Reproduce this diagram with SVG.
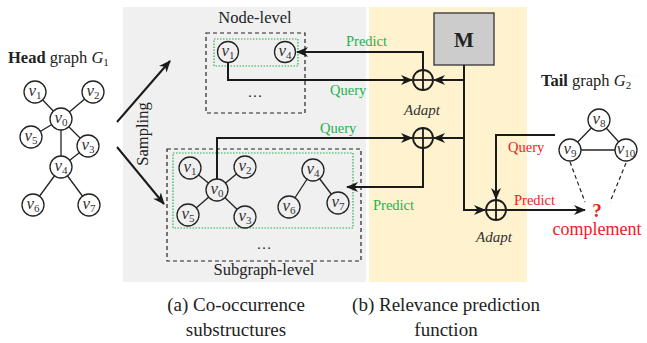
<svg xmlns="http://www.w3.org/2000/svg" width="647" height="343" viewBox="0 0 647 343">
<style>
.bg{stroke:none}
.nd{stroke:#222;stroke-width:1.3}
.e{stroke:#222;stroke-width:1.3;fill:none}
.ln{stroke:#1a1a1a;stroke-width:2;fill:none}
.dash{stroke:#222;stroke-width:1.2;fill:none;stroke-dasharray:4 3}
.dot{stroke:#22b14c;stroke-width:1.2;fill:none;stroke-dasharray:1.5 1.5}
.vl{font-family:"Liberation Serif",serif;font-style:italic;font-size:17px;fill:#333;text-anchor:middle}
.sb{font-size:11px;font-style:normal}
.t{font-family:"Liberation Serif",serif;fill:#222}
.g{font-family:"Liberation Serif",serif;font-size:14.5px;fill:#1fb04f}
.r{font-family:"Liberation Serif",serif;font-size:14.5px;fill:#ee1c25}
.ad{font-family:"Liberation Serif",serif;font-size:15px;font-style:italic;fill:#333;text-anchor:middle}
.op{fill:none;stroke:#1a1a1a;stroke-width:1.8}
</style>
<defs>
<marker id="ah" viewBox="0 0 12 10" refX="11" refY="5" markerWidth="12" markerHeight="10" markerUnits="userSpaceOnUse" orient="auto">
<path d="M0,0 L12,5 L0,10 L3.5,5 z" fill="#1a1a1a"/>
</marker>
</defs>

<!-- backgrounds -->
<rect class="bg" x="123" y="7" width="243" height="275" fill="#f0f0f0"/>
<rect class="bg" x="369" y="7" width="158" height="275" fill="#fff2cf"/>

<!-- Head graph -->
<g id="head-graph">
<text class="t" x="8" y="63" font-size="16.5"><tspan font-weight="bold">Head</tspan> graph <tspan font-style="italic">G</tspan><tspan font-size="11" dy="3">1</tspan></text>
<line class="e" x1="61" y1="119" x2="35" y2="92"/>
<line class="e" x1="61" y1="119" x2="93" y2="92"/>
<line class="e" x1="61" y1="119" x2="31" y2="137"/>
<line class="e" x1="61" y1="119" x2="88" y2="146"/>
<line class="e" x1="61" y1="119" x2="61" y2="167"/>
<line class="e" x1="88" y1="146" x2="61" y2="167"/>
<line class="e" x1="61" y1="167" x2="33" y2="205"/>
<line class="e" x1="61" y1="167" x2="89" y2="205"/>
<circle class="nd" cx="35" cy="92" r="11" fill="#fff"/>
<circle class="nd" cx="93" cy="92" r="11" fill="#fff"/>
<circle class="nd" cx="61" cy="119" r="11" fill="#fff"/>
<circle class="nd" cx="31" cy="137" r="11" fill="#fff"/>
<circle class="nd" cx="88" cy="146" r="11" fill="#fff"/>
<circle class="nd" cx="61" cy="167" r="11" fill="#fff"/>
<circle class="nd" cx="33" cy="205" r="11" fill="#fff"/>
<circle class="nd" cx="89" cy="205" r="11" fill="#fff"/>
<text class="vl" x="35" y="96">v<tspan class="sb" dy="3">1</tspan></text>
<text class="vl" x="93" y="96">v<tspan class="sb" dy="3">2</tspan></text>
<text class="vl" x="61" y="123">v<tspan class="sb" dy="3">0</tspan></text>
<text class="vl" x="31" y="141">v<tspan class="sb" dy="3">5</tspan></text>
<text class="vl" x="88" y="150">v<tspan class="sb" dy="3">3</tspan></text>
<text class="vl" x="61" y="171">v<tspan class="sb" dy="3">4</tspan></text>
<text class="vl" x="33" y="209">v<tspan class="sb" dy="3">6</tspan></text>
<text class="vl" x="89" y="209">v<tspan class="sb" dy="3">7</tspan></text>
</g>

<!-- Sampling -->
<g id="sampling">
<text class="t" font-size="16.5" text-anchor="middle" transform="translate(148,134) rotate(-90)">Sampling</text>
</g>

<!-- Node-level -->
<g id="node-level">
<text class="t" x="255" y="23" font-size="16.5" text-anchor="middle" fill="#333">Node-level</text>
<rect class="dash" x="206" y="33" width="99" height="80"/>
<rect class="dot" x="214" y="39" width="84" height="27"/>
<circle class="nd" cx="228" cy="52" r="10.5" fill="none"/>
<circle class="nd" cx="285" cy="52" r="10.5" fill="none"/>
<text class="vl" x="228" y="56">v<tspan class="sb" dy="3">1</tspan></text>
<text class="vl" x="285" y="56">v<tspan class="sb" dy="3">4</tspan></text>
<text class="t" x="255" y="97" font-size="15" text-anchor="middle">…</text>
</g>

<!-- Subgraph-level -->
<g id="subgraph-level">
<rect class="dash" x="167" y="149" width="194" height="112"/>
<rect class="dot" x="173" y="153" width="180" height="75"/>
<line class="e" x1="217" y1="190" x2="190" y2="168"/>
<line class="e" x1="217" y1="190" x2="245" y2="167"/>
<line class="e" x1="217" y1="190" x2="188" y2="215"/>
<line class="e" x1="217" y1="190" x2="245" y2="217"/>
<line class="e" x1="313" y1="170" x2="289" y2="207"/>
<line class="e" x1="313" y1="170" x2="338" y2="203"/>
<circle class="nd" cx="190" cy="168" r="11" fill="#f0f0f0"/>
<circle class="nd" cx="245" cy="167" r="11" fill="#f0f0f0"/>
<circle class="nd" cx="217" cy="190" r="11" fill="#f0f0f0"/>
<circle class="nd" cx="188" cy="215" r="11" fill="#f0f0f0"/>
<circle class="nd" cx="245" cy="217" r="11" fill="#f0f0f0"/>
<circle class="nd" cx="313" cy="170" r="11" fill="#f0f0f0"/>
<circle class="nd" cx="289" cy="207" r="11" fill="#f0f0f0"/>
<circle class="nd" cx="338" cy="203" r="11" fill="#f0f0f0"/>
<text class="vl" x="190" y="172">v<tspan class="sb" dy="3">1</tspan></text>
<text class="vl" x="245" y="171">v<tspan class="sb" dy="3">2</tspan></text>
<text class="vl" x="217" y="194">v<tspan class="sb" dy="3">0</tspan></text>
<text class="vl" x="188" y="219">v<tspan class="sb" dy="3">5</tspan></text>
<text class="vl" x="245" y="221">v<tspan class="sb" dy="3">3</tspan></text>
<text class="vl" x="313" y="174">v<tspan class="sb" dy="3">4</tspan></text>
<text class="vl" x="289" y="211">v<tspan class="sb" dy="3">6</tspan></text>
<text class="vl" x="338" y="207">v<tspan class="sb" dy="3">7</tspan></text>
<text class="t" x="264" y="249" font-size="15" text-anchor="middle">…</text>
<text class="t" x="264" y="275" font-size="16.5" text-anchor="middle" fill="#333">Subgraph-level</text>
</g>

<!-- Model M -->
<g id="model-M">
<rect x="434" y="13" width="60" height="52" fill="#cccccc" stroke="#333" stroke-width="1.3"/>
<text class="t" x="464" y="47" font-size="21" font-weight="bold" text-anchor="middle">M</text>
</g>

<!-- Adapt operators -->
<g id="adapt-1">
<circle class="op" cx="423" cy="80" r="10"/>
<line class="op" x1="413" y1="80" x2="433" y2="80"/>
<line class="op" x1="423" y1="70" x2="423" y2="90"/>
<text class="ad" x="422" y="115">Adapt</text>
</g>
<g id="adapt-2">
<circle class="op" cx="423" cy="138" r="10"/>
<line class="op" x1="413" y1="138" x2="433" y2="138"/>
<line class="op" x1="423" y1="128" x2="423" y2="148"/>
</g>
<g id="adapt-3">
<circle class="op" cx="496" cy="210" r="10"/>
<line class="op" x1="486" y1="210" x2="506" y2="210"/>
<line class="op" x1="496" y1="200" x2="496" y2="220"/>
<text class="ad" x="494" y="242">Adapt</text>
</g>

<!-- Tail graph -->
<g id="tail-graph">
<text class="t" x="541" y="86" font-size="16.5"><tspan font-weight="bold">Tail</tspan> graph <tspan font-style="italic">G</tspan><tspan font-size="11" dy="3">2</tspan></text>
<line class="e" x1="599" y1="120" x2="570" y2="150"/>
<line class="e" x1="599" y1="120" x2="626" y2="150"/>
<line class="e" x1="570" y1="150" x2="626" y2="150"/>
<circle class="nd" cx="599" cy="120" r="11" fill="#fff"/>
<circle class="nd" cx="570" cy="150" r="11" fill="#fff"/>
<circle class="nd" cx="626" cy="150" r="11" fill="#fff"/>
<text class="vl" x="599" y="124">v<tspan class="sb" dy="3">8</tspan></text>
<text class="vl" x="570" y="154">v<tspan class="sb" dy="3">9</tspan></text>
<text class="vl" x="626" y="154">v<tspan class="sb" dy="3">10</tspan></text>
</g>

<!-- Complement -->
<g id="complement">
<text x="597" y="217" font-family="Liberation Serif,serif" font-size="19" font-weight="bold" fill="#ee1c25" text-anchor="middle">?</text>
<text x="597" y="235" font-family="Liberation Serif,serif" font-size="18" fill="#ee1c25" text-anchor="middle">complement</text>
</g>

<!-- Connectors -->
<g id="connectors">
<line class="ln" x1="117" y1="122" x2="170" y2="61" marker-end="url(#ah)"/>
<line class="ln" x1="117" y1="147" x2="164" y2="204" marker-end="url(#ah)"/>
<!-- node-level -->
<polyline class="ln" points="423,70 423,52 297,52" marker-end="url(#ah)"/>
<polyline class="ln" points="228,62.5 228,80 412,80" marker-end="url(#ah)"/>
<!-- M trunk -->
<polyline class="ln" points="464,65 464,210 485,210" marker-end="url(#ah)"/>
<line class="ln" x1="464" y1="80" x2="434" y2="80" marker-end="url(#ah)"/>
<line class="ln" x1="464" y1="138" x2="434" y2="138" marker-end="url(#ah)"/>
<!-- subgraph-level -->
<polyline class="ln" points="217,179 217,138 412,138" marker-end="url(#ah)"/>
<polyline class="ln" points="423,148 423,187 347,187" marker-end="url(#ah)"/>
<!-- tail -->
<polyline class="ln" points="555,135 496,135 496,199" marker-end="url(#ah)"/>
<line class="ln" x1="506" y1="210" x2="585" y2="210" marker-end="url(#ah)"/>
<line class="dash" x1="570" y1="162" x2="585" y2="202" stroke-dasharray="5 4"/>
<line class="dash" x1="626" y1="163" x2="610" y2="202" stroke-dasharray="5 4"/>
<!-- labels -->
<text class="g" x="346" y="46">Predict</text>
<text class="g" x="330" y="95">Query</text>
<text class="g" x="320" y="133">Query</text>
<text class="g" x="373" y="210">Predict</text>
<text class="r" x="508" y="152">Query</text>
<text class="r" x="514" y="205">Predict</text>
</g>

<!-- Captions -->
<g id="captions">
<text class="t" x="236" y="311" font-size="19" text-anchor="middle">(a) Co-occurrence</text>
<text class="t" x="236" y="336" font-size="19" text-anchor="middle">substructures</text>
<text class="t" x="446" y="311" font-size="19" text-anchor="middle">(b) Relevance prediction</text>
<text class="t" x="446" y="336" font-size="19" text-anchor="middle">function</text>
</g>
</svg>
